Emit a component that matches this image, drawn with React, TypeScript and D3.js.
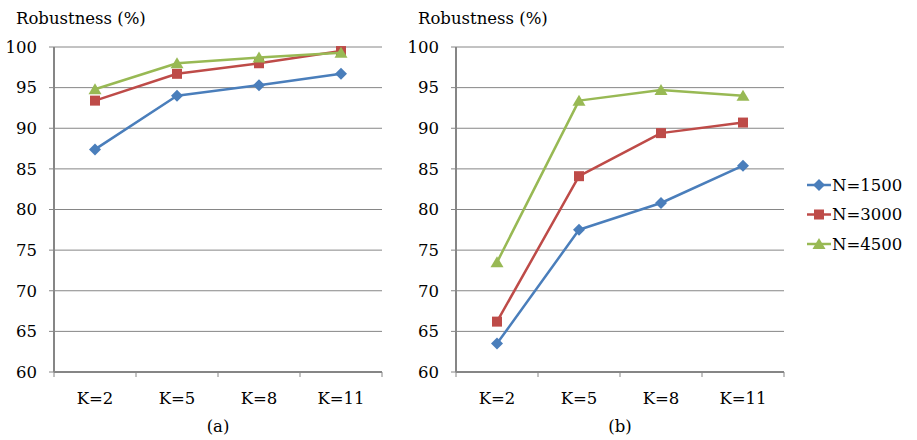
import * as d3 from "d3";

const categories = ["K=2", "K=5", "K=8", "K=11"];
const seriesNames = ["N=1500", "N=3000", "N=4500"];
const colors = ["#4a7ebb", "#be4b48", "#98b954"];
const yTicks = [60, 65, 70, 75, 80, 85, 90, 95, 100];

// panel (a)
const a1500 = [87.4, 94.0, 95.3, 96.7];
const a3000 = [93.4, 96.7, 98.0, 99.5];
const a4500 = [94.8, 98.0, 98.7, 99.3];

// panel (b)
const b1500 = [63.5, 77.5, 80.8, 85.4];
const b3000 = [66.2, 84.1, 89.4, 90.7];
const b4500 = [73.5, 93.4, 94.7, 94.0];

const W = 917;
const H = 440;
const TOP = 47;
const BOTTOM = 372;
const txt = { fontFamily: "'DejaVu Serif'", fontSize: 16.5 };

function Marker({ kind, x, y, color }: { kind: number; x: number; y: number; color: string }) {
  if (kind === 0) {
    return (
      <path
        d={`M${x},${y - 6}L${x + 6},${y}L${x},${y + 6}L${x - 6},${y}Z`}
        fill={color}
      />
    );
  }
  if (kind === 1) {
    return <rect x={x - 5} y={y - 5} width={10} height={10} fill={color} />;
  }
  return <path d={`M${x},${y - 6}L${x + 6.5},${y + 5}L${x - 6.5},${y + 5}Z`} fill={color} />;
}

function Panel({ left, right, data, label }: { left: number; right: number; data: number[][]; label: string }) {
  const x = d3.scaleBand<string>().domain(categories).range([left, right]);
  const y = d3.scaleLinear().domain([60, 100]).range([BOTTOM, TOP]);
  const line = d3
    .line<number>()
    .x((_, i) => (x(categories[i]) as number) + x.bandwidth() / 2)
    .y((d) => y(d));
  const bounds = [...categories.map((c) => x(c) as number), right];

  return (
    <g>
      <text x={left - 38} y={24} style={txt} fill="#000">
        Robustness (%)
      </text>
      {yTicks.map((t) => (
        <g key={t}>
          {t > 60 && (
            <line x1={left} x2={right} y1={y(t)} y2={y(t)} stroke="#868686" strokeWidth={1} />
          )}
          <line x1={left - 5} x2={left} y1={y(t)} y2={y(t)} stroke="#868686" strokeWidth={1} />
          <text x={left - 17} y={y(t)} dy="0.35em" textAnchor="end" style={txt} fill="#000">
            {t}
          </text>
        </g>
      ))}
      <line x1={left} x2={left} y1={TOP} y2={BOTTOM} stroke="#868686" strokeWidth={2} />
      <line x1={left} x2={right} y1={BOTTOM} y2={BOTTOM} stroke="#868686" strokeWidth={2} />
      {bounds.map((b, i) => (
        <line key={i} x1={b} x2={b} y1={BOTTOM} y2={BOTTOM + 5} stroke="#868686" strokeWidth={1} />
      ))}
      {categories.map((c) => (
        <text
          key={c}
          x={(x(c) as number) + x.bandwidth() / 2}
          y={404}
          textAnchor="middle"
          style={txt}
          fill="#000"
        >
          {c}
        </text>
      ))}
      <text x={(left + right) / 2} y={432} textAnchor="middle" style={txt} fill="#000">
        {label}
      </text>
      {data.map((vals, si) => (
        <g key={si}>
          <path d={line(vals) || ""} fill="none" stroke={colors[si]} strokeWidth={2.5} strokeLinejoin="round" />
          {vals.map((v, i) => (
            <Marker
              key={i}
              kind={si}
              x={(x(categories[i]) as number) + x.bandwidth() / 2}
              y={y(v)}
              color={colors[si]}
            />
          ))}
        </g>
      ))}
    </g>
  );
}

export default function App() {
  return (
    <svg width={W} height={H} style={{ position: "absolute", left: 0, top: 0, background: "#fff" }}>
      <rect width={W} height={H} fill="#fff" />
      <Panel left={54} right={382} data={[a1500, a3000, a4500]} label="(a)" />
      <Panel left={456} right={784} data={[b1500, b3000, b4500]} label="(b)" />
      {seriesNames.map((n, i) => {
        const ly = 185 + i * 29.5;
        return (
          <g key={n}>
            <line x1={807} x2={831} y1={ly} y2={ly} stroke={colors[i]} strokeWidth={2.5} />
            <Marker kind={i} x={819} y={ly} color={colors[i]} />
            <text x={832} y={ly} dy="0.35em" style={txt} fill="#000">
              {n}
            </text>
          </g>
        );
      })}
    </svg>
  );
}
